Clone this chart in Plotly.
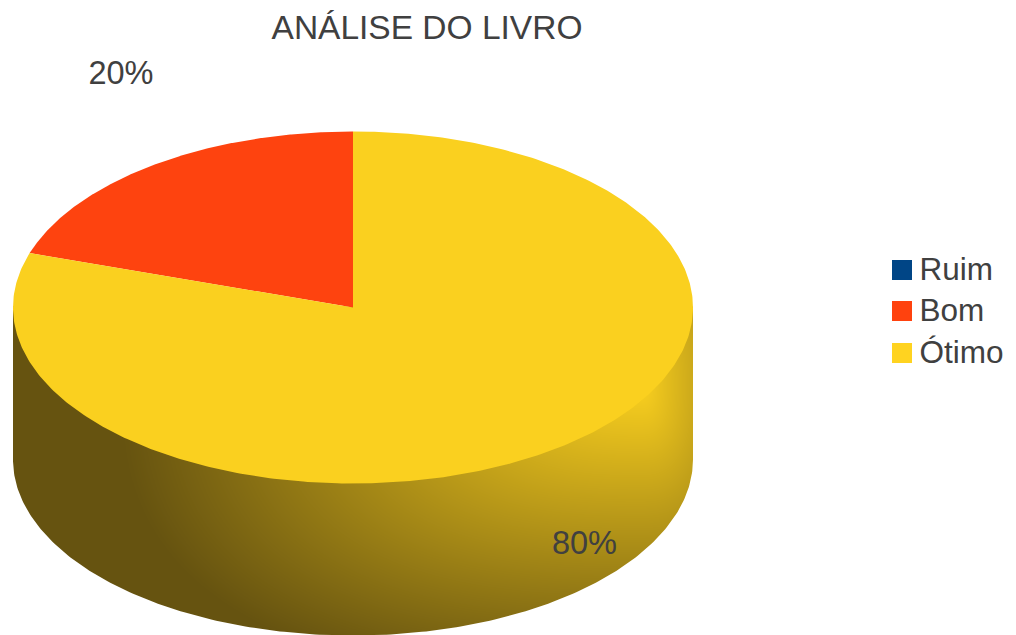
import numpy as np
import plotly.graph_objects as go

title_text = "ANÁLISE DO LIVRO"
categories = ["Ruim", "Bom", "Ótimo"]
values = [0, 20, 80]
swatch_colors = ["#004586", "#ff420e", "#ffd320"]
top_colors = ["#004586", "#fe430f", "#fad01f"]
label_x = [None, 121, 584.5]
label_y = [None, 75.5, 545.5]
legend_x = [902, 902, 902]
legend_y = [270, 311, 353]
legend_text_x = [919.5, 919.5, 919.5]
legend_text_y = [272.5, 313.5, 355.5]

W, H = 1016, 635
CX, CY, RX, RY, DEPTH = 353, 307.5, 340, 176, 152
INK = "#404040"

fig = go.Figure()

# side wall shading
xs = np.arange(14, 693, 2.0)
ys = np.arange(CY, 636, 2.0)
gx, gy = np.meshgrid(xs, ys)
dx = np.abs(gx - 640) / np.where(gx > 640, 170, 520)
dy = np.abs(gy - 385) / 300
shade = np.clip(1 - (dx ** 2.6 + dy ** 2.6) ** (1 / 2.6), 0, 1)
fig.add_trace(go.Heatmap(
    x=xs, y=ys, z=np.round(shade, 3).tolist(), zmin=0, zmax=1, zsmooth="best",
    colorscale=[[0, "#665310"], [1, "#fad01f"]], showscale=False, hoverinfo="skip",
))

# white mask outside the wall bottom
t = np.linspace(np.pi, 0, 240)
fig.add_trace(go.Scatter(
    x=np.r_[[CX - RX - 3], [CX - RX], CX + RX * np.cos(t), [CX + RX, CX + RX + 3, CX + RX + 3, CX - RX - 3]],
    y=np.r_[[CY + DEPTH], [CY + DEPTH], CY + DEPTH + RY * np.sin(t), [CY + DEPTH, CY + DEPTH, H + 2, H + 2]],
    mode="lines", fill="toself", fillcolor="white", line=dict(width=0),
    hoverinfo="skip", showlegend=False,
))

# top face slices, counter-clockwise from 12 o'clock
total = sum(values)
start = 0.0
for v, col in zip(values, top_colors):
    sweep = 2 * np.pi * v / total
    if v > 0:
        a = np.linspace(start, start + sweep, 400)
        fig.add_trace(go.Scatter(
            x=np.r_[[CX], CX - RX * np.sin(a), [CX]],
            y=np.r_[[CY], CY - RY * np.cos(a), [CY]],
            mode="lines", fill="toself", fillcolor=col, line=dict(width=0),
            hoverinfo="skip", showlegend=False,
        ))
    start += sweep

# data labels
fig.add_trace(go.Scatter(
    x=label_x, y=label_y, mode="text",
    text=[f"{v}%" if v else "" for v in values],
    textfont=dict(family="Liberation Sans", size=32.5, color=INK),
    textposition="middle center", hoverinfo="skip", showlegend=False,
))

# legend
fig.add_trace(go.Scatter(
    x=legend_x, y=legend_y, mode="markers",
    marker=dict(symbol="square", size=20, color=swatch_colors, line=dict(width=0)),
    hoverinfo="skip", showlegend=False,
))
fig.add_trace(go.Scatter(
    x=legend_text_x, y=legend_text_y, mode="text", text=categories,
    textposition="middle right",
    textfont=dict(family="Liberation Sans", size=31.5, color=INK),
    hoverinfo="skip", showlegend=False,
))

fig.update_layout(
    width=W, height=H, margin=dict(l=0, r=0, t=0, b=0),
    paper_bgcolor="white", plot_bgcolor="white", showlegend=False,
    title=dict(text=title_text, x=427 / W, xanchor="center", y=1 - 27 / H, yanchor="middle",
               font=dict(family="Liberation Sans", size=33.5, color=INK)),
    xaxis=dict(range=[0, W], visible=False, fixedrange=True),
    yaxis=dict(range=[H, 0], visible=False, fixedrange=True),
)
fig.write_html("out.html", config={"displayModeBar": False},
               post_script="document.body.style.margin='0';")
